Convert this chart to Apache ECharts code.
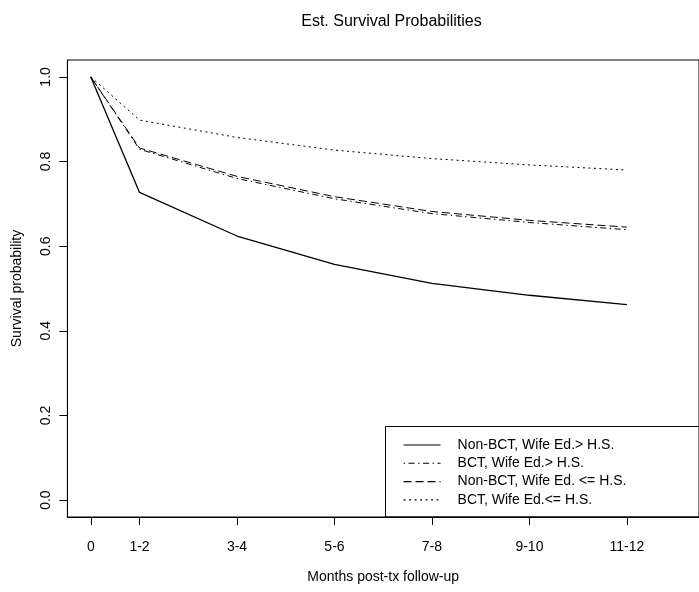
<!DOCTYPE html>
<html><head><meta charset="utf-8">
<script src="https://cdn.jsdelivr.net/npm/echarts@6/dist/echarts.min.js"></script>
<style>html,body{margin:0;padding:0;background:#fff}#c{width:699px;height:592px}</style>
</head><body><div id="c"></div>
<script>
// ---- data ----
const tickPositions = [0, 1, 3, 5, 7, 9, 11];
const tickLabels = ['0', '1-2', '3-4', '5-6', '7-8', '9-10', '11-12'];
const yTicks = [0, 0.2, 0.4, 0.6, 0.8, 1.0];
const seriesNames = [
  'Non-BCT, Wife Ed.> H.S.',
  'BCT, Wife Ed.> H.S.',
  'Non-BCT, Wife Ed. <= H.S.',
  'BCT, Wife Ed.<= H.S.'
];
const nonBctHigh = [1.0, 0.727, 0.624, 0.557, 0.512, 0.484, 0.462];
const bctHigh    = [1.0, 0.829, 0.760, 0.712, 0.677, 0.656, 0.639];
const nonBctLow  = [1.0, 0.832, 0.765, 0.717, 0.682, 0.661, 0.645];
const bctLow     = [1.0, 0.898, 0.857, 0.827, 0.807, 0.792, 0.780];
const titleText = 'Est. Survival Probabilities';
const xTitle = 'Months post-tx follow-up';
const yTitle = 'Survival probability';

// ---- chart ----
const FONT = "'Liberation Sans', Arial, Helvetica, sans-serif";
const values = [nonBctHigh, bctHigh, nonBctLow, bctLow];
const dashes = ['solid', [1.5, 3.5, 6, 3.5], [8, 4], [2, 3.5]];
const widths = [1.3, 1, 1, 1];
const chart = echarts.init(document.getElementById('c'), null, {renderer: 'canvas'});
const labelMap = {};
tickPositions.forEach((p, i) => { labelMap[p] = tickLabels[i]; });

chart.setOption({
  animation: false,
  backgroundColor: '#fff',
  title: {
    text: titleText, left: 386.5, top: 9, textAlign: 'center',
    textStyle: {fontFamily: FONT, fontSize: 16, fontWeight: 'normal', color: '#000'}
  },
  grid: {
    left: 67.4, top: 60, width: 638.2, height: 457,
    show: true, borderColor: '#000', borderWidth: 1, backgroundColor: 'transparent'
  },
  xAxis: {
    type: 'value', min: -0.48, max: 12.48,
    name: xTitle, nameLocation: 'middle', nameGap: 53,
    nameTextStyle: {fontFamily: FONT, fontSize: 14, color: '#000'},
    axisLine: {show: true, onZero: false, lineStyle: {color: '#000', width: 1}},
    axisTick: {show: true, inside: false, length: 8, customValues: tickPositions, lineStyle: {color: '#000'}},
    axisLabel: {
      customValues: tickPositions, margin: 23,
      fontFamily: FONT, fontSize: 14, color: '#000',
      formatter: v => labelMap[v] !== undefined ? labelMap[v] : ''
    },
    splitLine: {show: false}
  },
  yAxis: {
    type: 'value', min: -0.04, max: 1.04,
    name: yTitle, nameLocation: 'middle', nameGap: 43, nameRotate: 90,
    nameTextStyle: {fontFamily: FONT, fontSize: 14, color: '#000'},
    axisLine: {show: true, onZero: false, lineStyle: {color: '#000', width: 1}},
    axisTick: {show: true, inside: false, length: 8, customValues: yTicks, lineStyle: {color: '#000'}},
    axisLabel: {
      customValues: yTicks, margin: 14, rotate: 90,
      fontFamily: FONT, fontSize: 14, color: '#000',
      formatter: v => v.toFixed(1)
    },
    splitLine: {show: false}
  },
  legend: {
    orient: 'vertical', left: 403, top: 438, padding: 0,
    itemWidth: 37, itemHeight: 14, itemGap: 4.3,
    data: seriesNames,
    itemStyle: {opacity: 0},
    lineStyle: {width: 1.1},
    textStyle: {fontFamily: FONT, fontSize: 14, color: '#000', padding: [0, 0, 0, 12]}
  },
  graphic: [{
    type: 'rect', z: 0,
    shape: {x: 385.5, y: 426.5, width: 400, height: 90.5},
    style: {fill: 'none', stroke: '#000', lineWidth: 1}
  }],
  series: seriesNames.map((name, i) => ({
    name: name, type: 'line', symbol: 'none', showSymbol: false,
    data: tickPositions.map((x, j) => [x, values[i][j]]),
    lineStyle: {color: '#000', width: widths[i], type: dashes[i]},
    itemStyle: {color: '#000'},
    emphasis: {disabled: true}
  }))
});
</script>
</body></html>
